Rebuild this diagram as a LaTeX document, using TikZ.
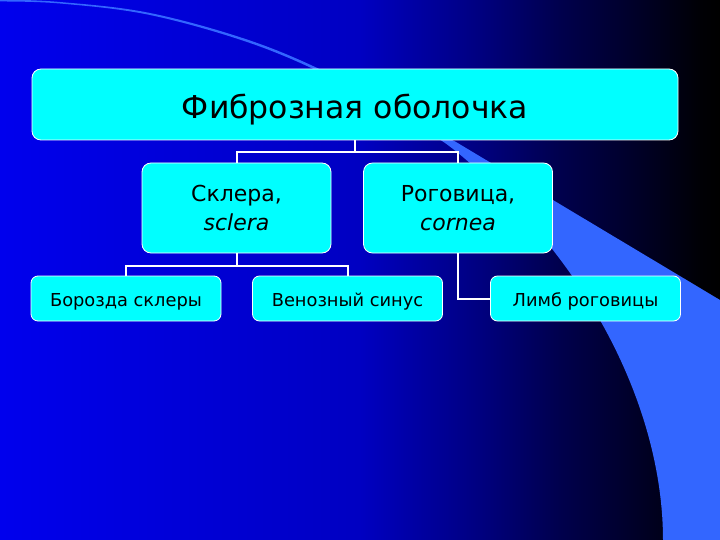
\documentclass[tikz,border=0pt]{standalone}
\usepackage{fontspec}
\setmainfont{DejaVu Sans}
\definecolor{boxcyan}{RGB}{0,255,255}
\definecolor{bandblue}{RGB}{51,102,255}
\pgfdeclarehorizontalshading{bgshade}{100bp}{rgb(0bp)=(0,0,0.93);rgb(25bp)=(0,0,0.93);rgb(50bp)=(0,0,0.76);rgb(58.3bp)=(0,0,0.5);rgb(63.9bp)=(0,0,0.3);rgb(69.4bp)=(0,0,0.15);rgb(73.6bp)=(0,0,0.02);rgb(75bp)=(0,0,0);rgb(100bp)=(0,0,0)}
\begin{document}
\begin{tikzpicture}[x=1pt,y=-1pt,
  box/.style={draw=white, line width=0.8pt, fill=boxcyan, rounded corners=9pt, align=center, text=black, inner sep=0pt},
  smallbox/.style={box, minimum width=190, minimum height=45, rounded corners=7pt, font=\fontsize{17.8}{21}\selectfont, text height=15pt, text depth=0pt},
  midbox/.style={box, minimum width=189, minimum height=90, font=\fontsize{22}{29}\selectfont},
  link/.style={draw=white, line width=2pt}]
\path[use as bounding box] (0,0) rectangle (720,540);
\fill[shading=bgshade] (0,0) rectangle (720,540);
\fill[bandblue] plot[smooth,tension=0.6] coordinates {(0,-0.5) (60,2) (150,13) (250,40.5) (330,74) (400,112) (456,142)}
  -- (720,300) -- (720,540) -- (663,540)
  .. controls (663,420) and (600,280) .. (480,172)
  -- plot[smooth,tension=0.6] coordinates {(480,172) (445,143) (400,117) (330,77) (250,43) (150,15) (60,3.5) (0,1.5)} -- cycle;
\node[box, minimum width=646, minimum height=71, font=\fontsize{31.5}{36}\selectfont, text height=29pt, text depth=0pt] (top) at (355,104.5) {Фиброзная оболочка};
\node[midbox] (sk) at (236.5,208) {Склера,\\ \textit{sclera}};
\node[midbox] (rog) at (458,208) {Роговица,\\ \textit{cornea}};
\node[smallbox] (bor) at (126,298.5) {Борозда склеры};
\node[smallbox] (ven) at (347.5,298.5) {Венозный синус};
\node[smallbox] (limb) at (585.5,298.5) {Лимб роговицы};
\draw[link] (top.south) -- ++(0,12);
\draw[link] (sk.north) -- ++(0,-11) -| (rog.north);
\draw[link] (sk.south) -- ++(0,13);
\draw[link] (bor.north) -- ++(0,-10) -| (ven.north);
\draw[link] (rog.south) |- (limb.west);
\end{tikzpicture}
\end{document}
